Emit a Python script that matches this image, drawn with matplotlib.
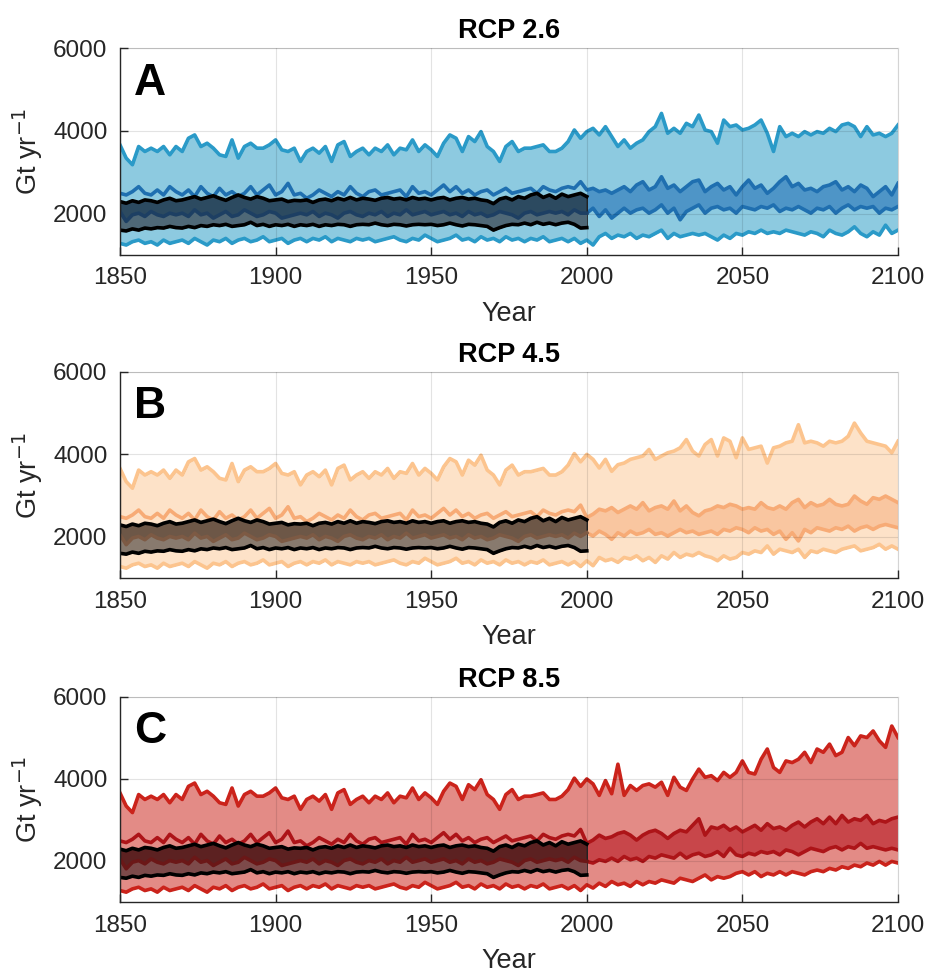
import numpy as np
import matplotlib
matplotlib.use("Agg")
import matplotlib.pyplot as plt

plt.rcParams['font.family'] = ['Liberation Sans', 'DejaVu Sans']

# ---------------- data ----------------
# years: historical 1850-1998 (step 2) and future 2000-2100 (step 2)
years_hist = list(range(1850, 2000, 2))
years_fut = list(range(2000, 2101, 2))
years_obs = list(range(1850, 2001, 2))

# shared historical envelopes (Gt/yr)
hist_outer_upper = [3660,3340,3180,3620,3500,3580,3500,3620,3420,3620,
                    3500,3820,3900,3620,3700,3580,3420,3380,3780,3340,
                    3620,3700,3580,3580,3660,3780,3540,3500,3580,3260,
                    3500,3580,3460,3620,3260,3660,3740,3380,3500,3580,
                    3420,3580,3500,3660,3420,3580,3540,3780,3500,3660,
                    3540,3380,3700,3900,3820,3500,3860,3740,3980,3620,
                    3500,3260,3620,3740,3500,3580,3580,3620,3660,3500,
                    3500,3580,3740,4020,3820]
hist_inner_upper = [2490,2450,2530,2650,2490,2450,2570,2450,2650,2530,
                    2450,2570,2410,2650,2490,2410,2610,2450,2530,2410,
                    2490,2650,2450,2570,2690,2450,2530,2730,2450,2490,
                    2370,2450,2570,2490,2410,2530,2450,2650,2490,2410,
                    2530,2570,2450,2490,2530,2570,2410,2650,2490,2530,
                    2450,2570,2690,2530,2650,2490,2570,2450,2530,2570,
                    2450,2530,2610,2490,2530,2570,2610,2490,2650,2570,
                    2530,2610,2650,2610,2770]
hist_inner_lower = [2050,1810,1970,2010,1930,2050,1970,1930,2010,1970,
                    2010,1930,2090,1970,2010,1890,1970,2050,1930,1970,
                    2090,2010,1930,1970,2050,2010,1890,1930,1970,2010,
                    1970,2050,1930,2010,1970,1890,2010,2050,1970,1930,
                    2010,1970,2050,1930,2010,1970,2090,1970,2010,2050,
                    1970,2010,2050,1970,2010,1930,2050,1970,2010,1930,
                    1970,2050,2010,1970,1890,2010,2050,1970,2010,2050,
                    2010,2050,1970,2090,2010]
hist_outer_lower = [1280,1240,1320,1360,1280,1320,1240,1360,1280,1320,
                    1360,1280,1400,1320,1240,1360,1320,1400,1280,1360,
                    1400,1320,1360,1440,1320,1360,1400,1280,1360,1400,
                    1320,1400,1360,1440,1320,1400,1360,1320,1400,1360,
                    1400,1320,1360,1400,1440,1360,1320,1400,1360,1480,
                    1400,1320,1360,1400,1480,1360,1400,1320,1440,1360,
                    1400,1320,1440,1360,1400,1320,1400,1360,1440,1320,
                    1360,1400,1320,1400,1280]

# observational (black) band 1850-2000
obs_upper = [2290,2250,2310,2270,2330,2310,2270,2330,2370,2310,
             2330,2370,2410,2350,2390,2430,2370,2320,2390,2450,
             2390,2350,2410,2370,2310,2330,2350,2290,2320,2310,
             2330,2270,2330,2350,2310,2370,2330,2390,2330,2370,
             2350,2320,2370,2390,2350,2370,2330,2390,2350,2370,
             2330,2370,2390,2330,2370,2390,2350,2370,2330,2310,
             2240,2350,2390,2330,2410,2370,2450,2490,2390,2450,
             2370,2470,2410,2450,2490,2410]
obs_lower = [1600,1580,1630,1600,1650,1630,1660,1650,1690,1660,
             1650,1690,1660,1710,1690,1730,1710,1740,1690,1710,
             1730,1790,1710,1740,1690,1730,1710,1740,1690,1730,
             1710,1740,1690,1730,1710,1740,1730,1690,1730,1740,
             1730,1770,1730,1710,1740,1730,1700,1730,1740,1730,
             1740,1710,1730,1770,1730,1700,1740,1730,1710,1690,
             1600,1660,1710,1740,1730,1770,1730,1790,1740,1770,
             1730,1770,1790,1740,1650,1660]

# future envelopes per scenario, 2000-2100
rcp26_outer_upper = [3980,4060,3900,4100,3860,3620,3780,3580,3700,3780,
                     3980,4100,4420,3940,4060,3940,4180,4100,4380,4020,
                     3980,3700,4260,4100,4140,4020,4060,4140,4260,3940,
                     3500,4100,3860,3940,3860,3980,3900,3980,3940,4060,
                     3980,4140,4180,4100,3860,4100,3900,3940,3860,3940,
                     4140]
rcp26_inner_upper = [2570,2610,2530,2570,2490,2570,2650,2530,2690,2770,
                     2570,2650,2890,2610,2690,2530,2650,2770,2810,2530,
                     2650,2730,2570,2650,2450,2650,2810,2610,2690,2490,
                     2610,2770,2890,2650,2730,2570,2610,2530,2650,2690,
                     2770,2570,2650,2530,2690,2610,2410,2530,2650,2450,
                     2730]
rcp26_inner_lower = [2010,2130,1930,2090,1890,2010,2130,2010,2090,2130,
                     2010,2090,2210,2010,2130,1850,2050,2130,2210,2010,
                     2130,2170,2090,2130,2010,2170,2130,2090,2170,2130,
                     2210,2050,2130,2090,2170,2090,2010,2130,2090,2170,
                     2010,2130,2210,2090,2170,2130,2170,2010,2130,2090,
                     2170]
rcp26_outer_lower = [1360,1240,1440,1520,1400,1480,1440,1520,1400,1480,
                     1440,1520,1600,1400,1520,1440,1480,1520,1480,1520,
                     1440,1360,1480,1400,1520,1480,1560,1520,1600,1520,
                     1560,1520,1600,1560,1520,1480,1560,1520,1440,1600,
                     1520,1480,1560,1680,1520,1440,1560,1480,1720,1520,
                     1600]

rcp45_outer_upper = [4000,3880,3670,3880,3590,3750,3790,3880,3920,3960,
                     4120,3880,3960,4040,4080,4160,4360,4080,3960,4240,
                     4360,3960,4400,4320,3920,4400,4120,4160,4200,3790,
                     4160,4200,4280,4320,4720,4280,4320,4280,4200,4320,
                     4280,4320,4440,4760,4520,4320,4280,4240,4200,4040,
                     4320]
rcp45_inner_upper = [2470,2550,2670,2630,2710,2590,2670,2750,2670,2830,
                     2630,2710,2750,2670,2870,2630,2750,2590,2510,2630,
                     2670,2750,2710,2790,2750,2670,2710,2670,2830,2710,
                     2670,2750,2670,2830,2910,2710,2830,2750,2790,2910,
                     2790,2750,2790,2990,2870,2790,2950,2910,2990,2910,
                     2830]
rcp45_inner_lower = [2100,2020,2140,2060,1940,2100,2020,2140,2060,2100,
                     2180,2060,2100,2020,2100,2180,2100,2140,2060,2100,
                     2140,2060,2180,2140,2220,2180,2100,2220,2140,2180,
                     2060,2140,1940,2100,1900,2180,2100,2220,2180,2140,
                     2220,2180,2260,2140,2220,2260,2180,2260,2300,2260,
                     2220]
rcp45_outer_lower = [1420,1300,1500,1420,1460,1380,1500,1460,1540,1420,
                     1500,1380,1540,1460,1620,1500,1580,1540,1620,1540,
                     1500,1420,1540,1460,1500,1620,1580,1660,1620,1780,
                     1580,1700,1660,1620,1700,1500,1660,1620,1700,1660,
                     1620,1700,1740,1780,1660,1700,1740,1820,1700,1780,
                     1700]

rcp85_outer_upper = [4000,3880,3600,3960,3640,4360,3600,3840,3720,3840,
                     3880,3800,3920,3600,4040,3800,3720,4000,4240,4040,
                     4080,3960,4160,4040,4160,4440,4160,4120,4480,4730,
                     4280,4160,4440,4400,4480,4650,4400,4730,4650,4850,
                     4570,4650,5010,4810,5050,5010,5170,4930,4770,5290,
                     5010]
rcp85_inner_upper = [2430,2510,2630,2550,2590,2670,2710,2630,2510,2630,
                     2710,2750,2670,2550,2670,2750,2710,2870,3030,2630,
                     2830,2790,2870,2750,2830,2710,2790,2870,2750,2910,
                     2790,2830,2750,2870,2950,2830,2950,3030,2910,3070,
                     2910,3110,2950,3030,2990,3110,2910,2990,2950,3030,
                     3070]
rcp85_inner_lower = [1990,1950,2030,1990,2070,1990,2110,2030,2070,1990,
                     2110,2070,2150,2110,2070,2190,2070,2150,2190,2110,
                     2150,2230,2110,2310,2150,2110,2190,2150,2230,2190,
                     2230,2150,2270,2230,2150,2230,2310,2270,2230,2310,
                     2350,2270,2350,2310,2430,2310,2350,2310,2270,2310,
                     2270]
rcp85_outer_lower = [1420,1340,1460,1380,1500,1420,1460,1380,1500,1420,
                     1500,1460,1540,1500,1460,1580,1540,1500,1580,1660,
                     1540,1620,1580,1620,1700,1740,1660,1740,1620,1700,
                     1660,1740,1660,1740,1700,1660,1740,1780,1740,1820,
                     1780,1860,1820,1900,1860,1950,1900,1990,1900,1990,
                     1950]

titles = ["RCP 2.6", "RCP 4.5", "RCP 8.5"]
panel_letters = ["A", "B", "C"]
x_ticks = [1850, 1900, 1950, 2000, 2050, 2100]
y_ticks = [2000, 4000, 6000]

scenarios = [
    (rcp26_outer_upper, rcp26_inner_upper, rcp26_inner_lower, rcp26_outer_lower),
    (rcp45_outer_upper, rcp45_inner_upper, rcp45_inner_lower, rcp45_outer_lower),
    (rcp85_outer_upper, rcp85_inner_upper, rcp85_inner_lower, rcp85_outer_lower),
]

# styles: outer line, outer fill, inner line, inner fill, band upper, band lower, hist inner dark
styles = [
    dict(ol='#2a9ac8', of='#8dcae0', il='#1f6fb0', inf='#4e95c7',
         bu='#2c4a60', bl='#4f6877', dk='#1d3f63'),
    dict(ol='#fcc48e', of='#fde2c8', il='#f7ab76', inf='#f9c6a0',
         bu='#6d5747', bl='#887a6e', dk='#7d5a44'),
    dict(ol='#cb231b', of='#e38b86', il='#ad1418', inf='#c8464a',
         bu='#5c2121', bl='#7d4a4a', dk='#6b1717'),
]

fig = plt.figure(figsize=(9.30, 9.72), dpi=100)
ax_rects = [
    [0.129, 0.7377, 0.8366, 0.2129],
    [0.129, 0.4053, 0.8366, 0.2120],
    [0.129, 0.0720, 0.8366, 0.2110],
]

years_all = np.array(years_hist + years_fut)
yf = np.array(years_fut)
yo = np.array(years_obs)
LW = 2.6

for k in range(3):
    ax = fig.add_axes(ax_rects[k])
    st = styles[k]
    fu, fiu, fil, flo = scenarios[k]
    outer_up = np.array(hist_outer_upper + fu)
    outer_lo = np.array(hist_outer_lower + flo)
    inner_up = np.array(hist_inner_upper + fiu)
    inner_lo = np.array(hist_inner_lower + fil)

    ax.fill_between(years_all, outer_lo, outer_up, color=st['of'],
                    edgecolor='#555555', linewidth=0.8, zorder=1)
    ax.fill_between(yf, np.array(flo), np.array(fu), color=st['of'], linewidth=0, zorder=1.1)
    ax.fill_between(yf, np.array(fil), np.array(fiu), color=st['inf'], linewidth=0, zorder=1.2)

    ax.plot(years_all, outer_up, color=st['ol'], lw=LW, zorder=2)
    ax.plot(years_all, outer_lo, color=st['ol'], lw=LW, zorder=2)
    ax.plot(years_all, inner_up, color=st['il'], lw=LW, zorder=2.1)
    ax.plot(years_all, inner_lo, color=st['il'], lw=LW, zorder=2.1)

    # observational band
    il_obs = np.array(hist_inner_lower + [fil[0]])
    ou = np.array(obs_upper)
    ol = np.array(obs_lower)
    ax.fill_between(yo, ol, ou, color=st['bu'], edgecolor='#222222',
                    linewidth=1.0, zorder=3)
    ax.fill_between(yo, ol, np.minimum(np.maximum(il_obs, ol), ou),
                    color=st['bl'], linewidth=0, zorder=3.1)
    ax.plot(yo, il_obs, color=st['dk'], lw=LW, zorder=3.2)
    ax.plot(yo, ou, color='black', lw=LW, zorder=4)
    ax.plot(yo, ol, color='black', lw=LW, zorder=4)

    ax.set_xlim(1850, 2100)
    ax.set_ylim(1000, 6000)
    ax.set_xticks(x_ticks)
    ax.set_yticks(y_ticks)
    ax.grid(True, color='black', alpha=0.11, lw=0.8, zorder=5)
    ax.set_axisbelow(False)
    ax.tick_params(direction='in', length=6, width=1, labelsize=17.5,
                   colors='#262626', pad=9, top=False, right=False)
    for s in ['left', 'bottom']:
        ax.spines[s].set_color('#262626')
        ax.spines[s].set_linewidth(1.0)
        ax.spines[s].set_zorder(6)
    for s in ['top', 'right']:
        ax.spines[s].set_color('#d4d4d4')
        ax.spines[s].set_linewidth(0.8)

    ax.set_title(titles[k], fontsize=19.5, fontweight='bold', pad=7)
    ax.set_xlabel('Year', fontsize=19.5, color='#262626', labelpad=8)
    ax.set_ylabel('Gt yr$^{-1}$', fontsize=19.5, color='#262626', labelpad=6)
    ax.text(0.018, 0.93, panel_letters[k], transform=ax.transAxes,
            fontsize=32, fontweight='bold', va='top', ha='left', zorder=7)

fig.savefig('out.png', dpi=100)
